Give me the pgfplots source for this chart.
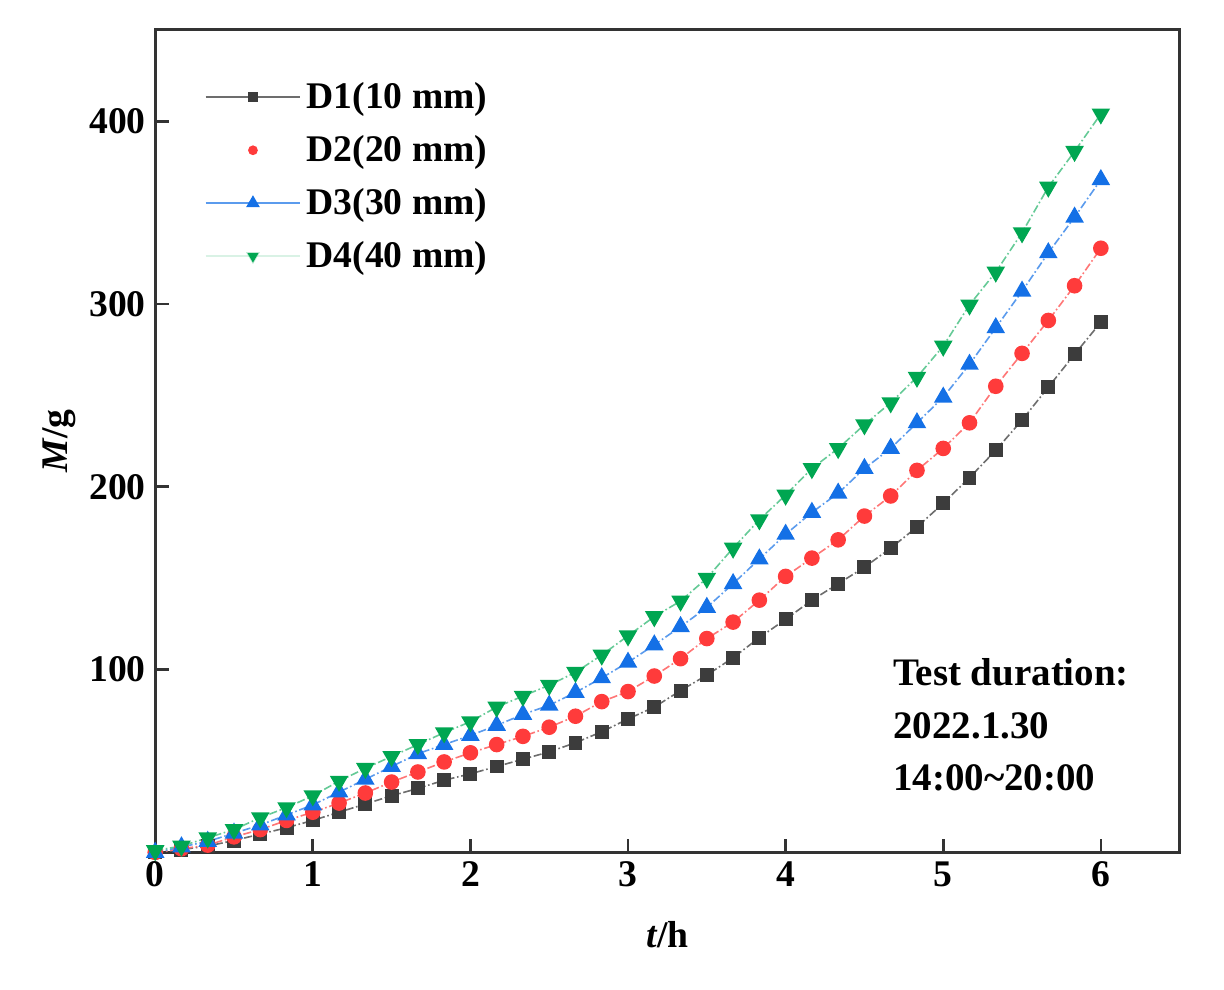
\documentclass[border=0pt]{standalone}
\usepackage{pgfplots}
\pgfplotsset{compat=1.18}
\usepackage{pgfplotstable}
\usepackage{fontspec}
\setmainfont{Liberation Serif}

\definecolor{cA}{HTML}{3C3C3C}
\definecolor{cB}{HTML}{FF3B3B}
\definecolor{cC}{HTML}{1470E6}
\definecolor{cD}{HTML}{00A651}

% t in h (10 min steps), M in g
\pgfplotstableread{
t        D1     D2     D3     D4
0        0      0      0      1
0.16667  1.5    2      3      3.5
0.33333  3.5    4      6      8
0.5      6.5    8.5    10.5   12.5
0.66667  10     12.5   15     19
0.83333  13.5   17.5   20.5   24.5
1        17.5   22     26     31
1.16667  22     27     33     39
1.33333  26.5   32.5   40     46
1.5      31     38.5   47     52.5
1.66667  35     44     54     59
1.83333  39.5   49.5   59     65.5
2        43     54.5   64     71.5
2.16667  47     59     69.5   79.5
2.33333  51     63.5   75.5   85.5
2.5      55     68.5   80.5   91.5
2.66667  60     74.5   87.5   98.5
2.83333  66     82.5   95.5   108
3        73     88     104    118.5
3.16667  79.5   96.5   113.5  129
3.33333  88.5   106    123.5  137.5
3.5      97     117    134    150
3.66667  106.5  126    147    166.5
3.83333  117.5  138    160.5  182
4        127.5  151    174    195.5
4.16667  138    161    186    210
4.33333  147    171    196.5  221
4.5      156    184    210    234
4.66667  166.5  195    221    246
4.83333  178    209    235    260
5        191    221    249    277
5.16667  205    235    267    299.5
5.33333  220    255    287    317.5
5.5      236.5  273    307    339
5.66667  254.5  291    328    364
5.83333  272.5  310    347.5  383.5
6        290    330.5  368    404
}\datatable

\begin{document}
\begin{tikzpicture}
\begin{axis}[
    scale only axis,
    width=13.4cm, height=10.76cm,
    xmin=0, xmax=6.5, ymin=0, ymax=450,
    xtick={0,1,2,3,4,5,6},
    ytick={100,200,300,400},
    tick align=inside,
    xtick pos=bottom, ytick pos=left,
    major tick length=5pt,
    axis line style={line width=1.1pt, color=black!80},
    every tick/.style={line width=1pt, color=black!80},
    /pgf/number format/assume math mode=true,
    ticklabel style={font=\fontsize{14}{16}\selectfont\bfseries},
    xlabel={\textbf{\textit{t}/h}},
    ylabel={\textbf{\textit{M}/g}},
    label style={font=\fontsize{14}{16}\selectfont},
    xlabel style={yshift=-6pt},
    ylabel style={yshift=-2pt},
    legend style={at={(0.04,0.95)}, anchor=north west, draw=none, fill=none,
        font=\fontsize{14}{16}\selectfont\bfseries, row sep=4.5pt},
    legend cell align=left,
    legend image code/.code={\draw[#1, solid, mark repeat=2, mark phase=2,
        every mark/.append style={scale=0.7}]
        plot coordinates {(0cm,0cm) (0.62cm,0cm) (1.24cm,0cm)};},
]
\addplot[cA!75, line width=0.6pt, densely dashdotted, mark=square*,
    mark size=2.3pt, mark options={solid, fill=cA, draw=cA}]
    table[x=t, y=D1] {\datatable};
\addlegendentry{D1(10 mm)}
\addplot[cB!70, line width=0.6pt, densely dashdotted, mark=*,
    mark size=2.6pt, mark options={solid, fill=cB, draw=cB},
    legend image post style={draw opacity=0}]
    table[x=t, y=D2] {\datatable};
\addlegendentry{D2(20 mm)}
\addplot[cC!70, line width=0.6pt, densely dashdotted, mark=triangle*,
    mark size=3.4pt, mark options={solid, fill=cC, draw=cC}]
    table[x=t, y=D3] {\datatable};
\addlegendentry{D3(30 mm)}
\addplot[cD!60, line width=0.6pt, densely dashdotted, mark=triangle*,
    mark size=3.4pt, mark options={solid, rotate=180, fill=cD, draw=cD},
    legend image post style={draw opacity=0.25}]
    table[x=t, y=D4] {\datatable};
\addlegendentry{D4(40 mm)}

\node[anchor=north west, align=left, inner sep=0pt,
    font=\fontsize{14.5}{19.5}\selectfont\bfseries]
    at (rel axis cs:0.72,0.236) {Test duration:\\2022.1.30\\14:00\textasciitilde 20:00};
\end{axis}
\path (current axis.south west) ++(-2.03cm,-1.79cm);
\path (current axis.north east) ++(0.58cm,0.39cm);
\end{tikzpicture}
\end{document}
